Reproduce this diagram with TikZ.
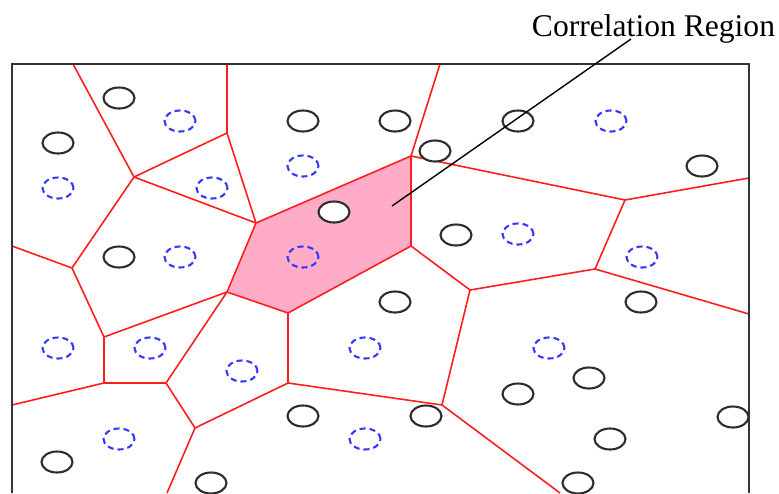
\documentclass[tikz,border=0pt]{standalone}
\usepackage{fontspec}
\setmainfont{Liberation Serif}
\usetikzlibrary{shapes.geometric}
\definecolor{cellred}{RGB}{255,30,30}
\definecolor{regionpink}{RGB}{255,172,200}
\definecolor{dashblue}{RGB}{55,55,255}
\definecolor{ringgray}{RGB}{45,45,45}
\tikzset{
  cellline/.style={cellred, line width=1.6pt},
  frameline/.style={black!80, line width=2pt},
  solidring/.style={ellipse, draw=ringgray, fill=white, line width=2.1pt, minimum width=31pt, minimum height=21pt, inner sep=0pt},
  dashring/.style={ellipse, draw=dashblue, line width=2.1pt, dash pattern=on 6pt off 4pt, minimum width=31pt, minimum height=21pt, inner sep=0pt},
  pointer/.style={black, line width=1.4pt},
  labeltext/.style={font=\fontsize{31.6}{38}\selectfont, inner sep=0pt, anchor=base}
}
\begin{document}
\begin{tikzpicture}[x=1pt,y=-1pt]
\useasboundingbox (0,0) rectangle (779,493);
% vertices
\coordinate (T1) at (73,64);
\coordinate (T2) at (227,64);
\coordinate (T3) at (440,64);
\coordinate (A) at (134,177);
\coordinate (B) at (227,133);
\coordinate (C) at (256,223);
\coordinate (D) at (72,268);
\coordinate (L1) at (12,246);
\coordinate (E) at (104,337);
\coordinate (F) at (227,292);
\coordinate (G) at (104,383);
\coordinate (L2) at (12,405);
\coordinate (H) at (166,383);
\coordinate (I) at (195,428);
\coordinate (Bt1) at (167,493);
\coordinate (J) at (288,383);
\coordinate (K) at (288,313);
\coordinate (M1) at (411,156);
\coordinate (M2) at (411,246);
\coordinate (O) at (470,290);
\coordinate (N) at (442,405);
\coordinate (Bt2) at (560,493);
\coordinate (R) at (625,200);
\coordinate (Re) at (749,178);
\coordinate (P) at (595,269);
\coordinate (Pe) at (749,314);
% frame corners
\coordinate (FL) at (12,493);
\coordinate (FTL) at (12,64);
\coordinate (FTR) at (749,64);
\coordinate (FR) at (749,493);
% correlation region
\fill[regionpink] (C) -- (M1) -- (M2) -- (K) -- (F) -- cycle;
% cell boundaries
\draw[cellline] (T1) -- (A);
\draw[cellline] (T2) -- (B);
\draw[cellline] (A) -- (B);
\draw[cellline] (A) -- (C);
\draw[cellline] (B) -- (C);
\draw[cellline] (A) -- (D);
\draw[cellline] (L1) -- (D);
\draw[cellline] (D) -- (E);
\draw[cellline] (E) -- (F);
\draw[cellline] (E) -- (G);
\draw[cellline] (L2) -- (G);
\draw[cellline] (G) -- (H);
\draw[cellline] (H) -- (F);
\draw[cellline] (H) -- (I);
\draw[cellline] (I) -- (Bt1);
\draw[cellline] (I) -- (J);
\draw[cellline] (J) -- (K);
\draw[cellline] (K) -- (F);
\draw[cellline] (F) -- (C);
\draw[cellline] (C) -- (M1);
\draw[cellline] (M1) -- (M2);
\draw[cellline] (M2) -- (K);
\draw[cellline] (T3) -- (M1);
\draw[cellline] (M1) -- (R);
\draw[cellline] (R) -- (Re);
\draw[cellline] (R) -- (P);
\draw[cellline] (P) -- (O);
\draw[cellline] (P) -- (Pe);
\draw[cellline] (O) -- (M2);
\draw[cellline] (O) -- (N);
\draw[cellline] (N) -- (J);
\draw[cellline] (N) -- (Bt2);
% solid rings
\node[solidring] (s1) at (119,98) {};
\node[solidring] (s2) at (58,143) {};
\node[solidring] (s3) at (119,257) {};
\node[solidring] (s4) at (303,121) {};
\node[solidring] (s5) at (395,121) {};
\node[solidring] (s6) at (435,151) {};
\node[solidring] (s7) at (334,212) {};
\node[solidring] (s8) at (456,235) {};
\node[solidring] (s9) at (518,121) {};
\node[solidring] (s10) at (702,166) {};
\node[solidring] (s11) at (395,302) {};
\node[solidring] (s12) at (641,302) {};
\node[solidring] (s13) at (589,378) {};
\node[solidring] (s14) at (518,394) {};
\node[solidring] (s15) at (610,439) {};
\node[solidring] (s16) at (733,417) {};
\node[solidring] (s17) at (578,483) {};
\node[solidring] (s18) at (303,416) {};
\node[solidring] (s19) at (426,416) {};
\node[solidring] (s20) at (57,462) {};
\node[solidring] (s21) at (211,483) {};
% dashed rings
\node[dashring] (d1) at (180,121) {};
\node[dashring] (d2) at (58,188) {};
\node[dashring] (d3) at (212,188) {};
\node[dashring] (d4) at (180,257) {};
\node[dashring] (d5) at (303,166) {};
\node[dashring] (d6) at (303,257) {};
\node[dashring] (d7) at (611,121) {};
\node[dashring] (d8) at (518,234) {};
\node[dashring] (d9) at (642,257) {};
\node[dashring] (d10) at (58,348) {};
\node[dashring] (d11) at (150,348) {};
\node[dashring] (d12) at (242,371) {};
\node[dashring] (d13) at (119,439) {};
\node[dashring] (d14) at (365,348) {};
\node[dashring] (d15) at (365,439) {};
\node[dashring] (d16) at (549,348) {};
% frame (open at the bottom)
\draw[frameline] (FL) -- (FTL) -- (FTR) -- (FR);
% label and pointer
\node[labeltext] (lbl) at (653.5,36) {Correlation Region};
\coordinate (ptrtop) at (631,39);
\coordinate (ptrend) at (392,206);
\draw[pointer] (ptrend) -- (ptrtop);
\end{tikzpicture}
\end{document}
